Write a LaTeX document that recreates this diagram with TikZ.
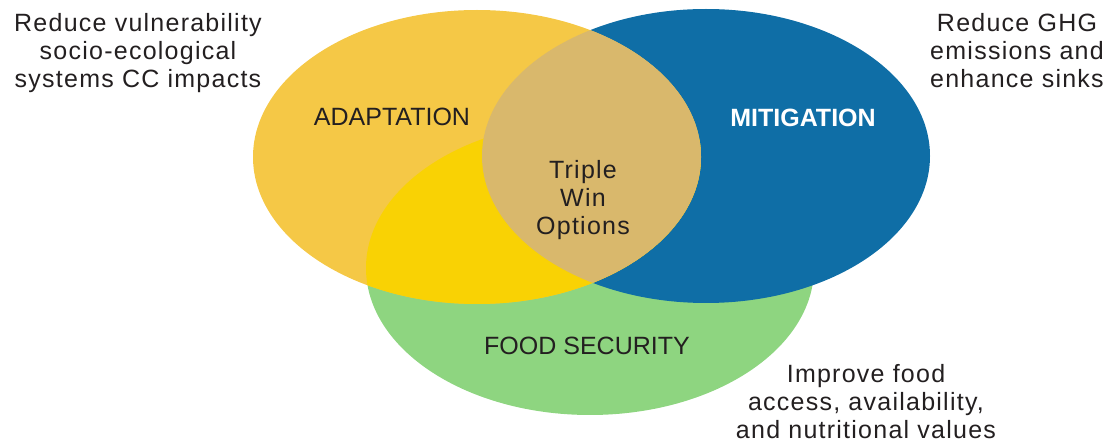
\documentclass[tikz,border=0pt]{standalone}
\usepackage{fontspec}
\setmainfont{Liberation Sans}
\newfontfamily\descfont{Liberation Sans}[LetterSpace=5]
\definecolor{adapt}{HTML}{F5C846}
\definecolor{adaptfood}{HTML}{F9D204}
\definecolor{adaptmit}{HTML}{D9B86C}
\definecolor{mitblue}{HTML}{0F6EA6}
\definecolor{foodgreen}{HTML}{8ED580}
\definecolor{ink}{HTML}{231F20}
\begin{document}
\begin{tikzpicture}[x=1pt,y=-1pt,
  venn/.style={x radius=224pt, y radius=147pt},
  desc/.style={font=\descfont\fontsize{25}{28}\selectfont, text=ink, align=center, inner sep=0pt, anchor=north},
  lab/.style={font=\fontsize{25}{28}\selectfont, text=ink, inner sep=0pt, anchor=base}]
\useasboundingbox (0,0) rectangle (1112,446);
\coordinate (cA) at (477,157);
\coordinate (cM) at (706,156);
\coordinate (cF) at (590,268);
\fill[foodgreen] (cF) ellipse[venn];
\fill[mitblue] (cM) ellipse[venn];
\fill[adapt] (cA) ellipse[venn];
\begin{scope}
  \clip (cA) ellipse[venn];
  \fill[adaptfood] (cF) ellipse[venn];
  \fill[adaptmit] (cM) ellipse[venn];
\end{scope}
\node[desc] (adtxt) at (138,13) {Reduce vulnerability\\socio-ecological\\systems CC impacts};
\node[desc] (mittxt) at (1017,13) {Reduce GHG\\emissions and\\enhance sinks};
\node[desc] (foodtxt) at (866,364) {Improve food\\access, availability,\\and nutritional values};
\node[desc] (triple) at (583,160) {Triple\\Win\\Options};
\node[lab] (adlab) at (392,126) {ADAPTATION};
\node[lab, text=white, font=\bfseries\fontsize{25}{28}\selectfont] (mitlab) at (803,127) {MITIGATION};
\node[lab] (foodlab) at (587,355) {FOOD SECURITY};
\end{tikzpicture}
\end{document}
